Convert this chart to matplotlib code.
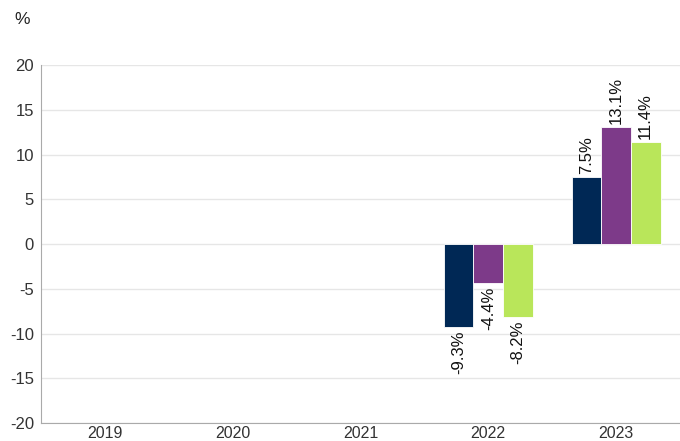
import matplotlib.pyplot as plt
import numpy as np

years = ['2019', '2020', '2021', '2022', '2023']
series_a = [np.nan, np.nan, np.nan, -9.3, 7.5]
series_b = [np.nan, np.nan, np.nan, -4.4, 13.1]
series_c = [np.nan, np.nan, np.nan, -8.2, 11.4]
colors = ['#002855', '#7d3a89', '#b9e65a']

plt.rcParams['font.family'] = ['Liberation Sans', 'DejaVu Sans']
plt.rcParams['axes.unicode_minus'] = False

fig = plt.figure(figsize=(6.8, 4.41), dpi=100)
ax = fig.add_axes([0.0603, 0.0408, 0.9397, 0.8118])

x = np.arange(len(years))
width = 0.232
for i, (vals, col) in enumerate(zip([series_a, series_b, series_c], colors)):
    pos = x + (i - 1) * width
    ax.bar(pos, vals, width, color=col, edgecolor='white', linewidth=0.6, zorder=3)
    for p, v in zip(pos, vals):
        if np.isnan(v):
            continue
        ax.annotate(f'{v:.1f}%', (p, v), xytext=(0, 2 if v > 0 else -2),
                    textcoords='offset points', rotation=90, ha='center',
                    va='bottom' if v > 0 else 'top', fontsize=12, color='#111111')

ax.set_xlim(-0.5, len(years) - 0.5)
ax.set_ylim(-20, 20)
ax.set_yticks(range(-20, 21, 5))
ax.set_xticks(x)
ax.set_xticklabels(years)
ax.grid(axis='y', color='#e6e6e6', linewidth=1, zorder=0)
for s in ['top', 'right']:
    ax.spines[s].set_visible(False)
for s in ['left', 'bottom']:
    ax.spines[s].set_color('#aaaaaa')
ax.tick_params(axis='y', length=0, labelsize=12, colors='#333333', pad=5)
ax.tick_params(axis='x', length=0, labelsize=11.5, colors='#333333', pad=2.5)
fig.text(14 / 680, 1 - 20 / 441, '%', fontsize=12.5, color='#222222', va='center', ha='left')

fig.savefig('out.png', dpi=100)
